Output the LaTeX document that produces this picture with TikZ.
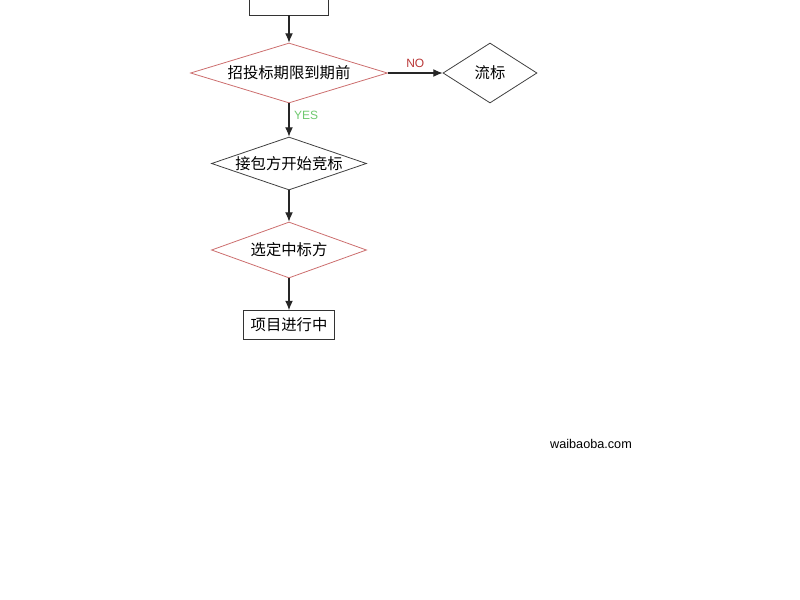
\documentclass[tikz,border=0pt]{standalone}
\usepackage{fontspec}
\setmainfont{Noto Sans CJK SC}
\newfontfamily\latinfont{Liberation Sans}
\usetikzlibrary{shapes.geometric,arrows.meta}

\definecolor{redline}{RGB}{204,110,110}
\definecolor{notext}{RGB}{185,55,55}
\definecolor{yestext}{RGB}{110,200,110}

\tikzset{
  reddia/.style={diamond,draw=redline,line width=0.6pt,inner sep=0pt},
  blackdia/.style={diamond,draw=black!75,line width=0.6pt,inner sep=0pt},
  stepbox/.style={rectangle,draw=black!80,line width=0.6pt,inner sep=0pt,minimum width=68.25pt,minimum height=21.75pt},
  flow/.style={draw=black!85,line width=0.9pt,-{Latex[length=7pt,width=6pt]}},
  tag/.style={font=\latinfont\fontsize{9}{10}\selectfont}
}

\begin{document}
\begin{tikzpicture}[x=0.75pt,y=-0.75pt,font=\fontsize{11.5}{14}\selectfont]
  \useasboundingbox (0,0) rectangle (800,600);
  \clip (0,0) rectangle (800,600);

  % flow nodes
  \node[stepbox,minimum width=59.25pt,minimum height=22.5pt] (start) at (289,0) {};
  \node[reddia,minimum width=147.75pt,minimum height=45pt] (deadline) at (289,73) {\makebox[0pt]{招投标期限到期前}};
  \node[blackdia,minimum width=70.5pt,minimum height=45pt] (fail) at (490,73) {\makebox[0pt]{流标}};
  \node[blackdia,minimum width=116.25pt,minimum height=39.75pt] (bid) at (289,163.5) {\makebox[0pt]{接包方开始竞标}};
  \node[reddia,minimum width=116.25pt,minimum height=42pt] (choose) at (289,250) {\makebox[0pt]{选定中标方}};
  \node[stepbox] (run) at (289,325) {项目进行中};

  % connectors
  \draw[flow] (start) -- (deadline);
  \draw[flow] (deadline) -- node[above,tag,text=notext] {NO} (fail);
  \draw[flow] (deadline) -- node[right,pos=0.35,tag,text=yestext] {YES} (bid);
  \draw[flow] (bid) -- (choose);
  \draw[flow] (choose) -- (run);

  \node[font=\latinfont\fontsize{9.5}{11}\selectfont] (site) at (591,444) {waibaoba.com};
\end{tikzpicture}
\end{document}
